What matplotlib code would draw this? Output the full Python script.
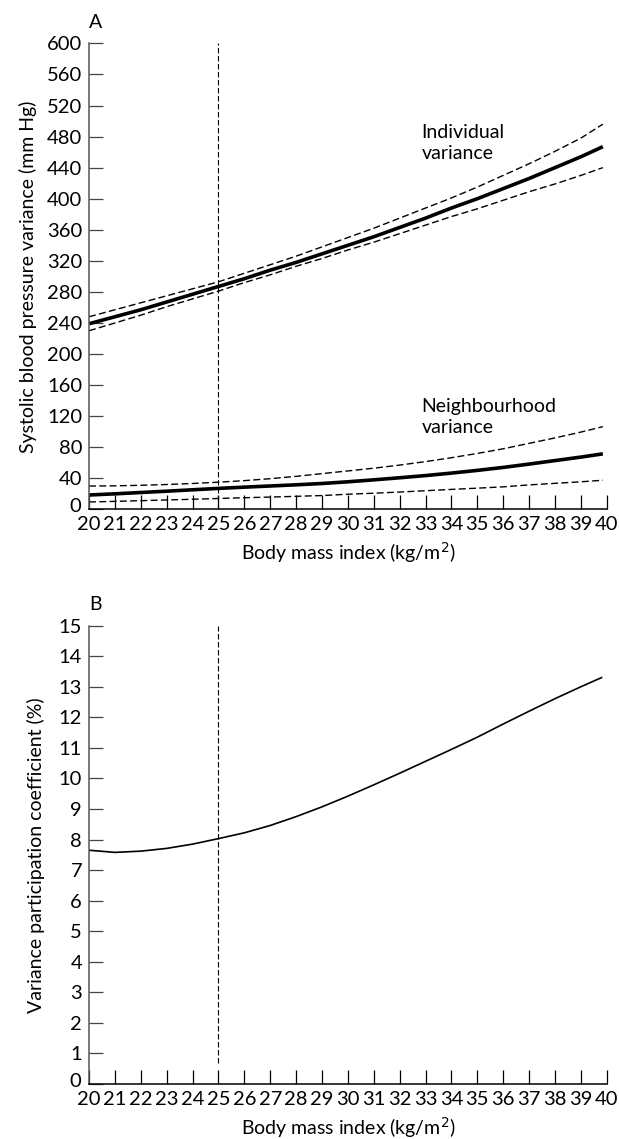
import matplotlib
matplotlib.use("Agg")
import matplotlib.pyplot as plt
from matplotlib.transforms import ScaledTranslation

plt.rcParams['font.family'] = ['Lato', 'DejaVu Sans']

# ---- Data ----
bmi = [20, 21, 22, 23, 24, 25, 26, 27, 28, 29, 30, 31, 32, 33, 34, 35, 36, 37, 38, 39, 39.85]

indiv_mean = [239, 248, 257, 267, 277, 287, 297, 308, 318, 329, 340, 351, 363, 375, 388, 400, 413, 426, 440, 454, 467]
indiv_upper = [248, 257, 266, 275, 284, 293, 304, 315, 326, 338, 350, 362, 375, 388, 401, 415, 430, 445, 461, 478, 496]
indiv_lower = [230, 240, 250, 261, 271, 281, 292, 302, 313, 323, 334, 344, 355, 366, 377, 387, 398, 409, 419, 430, 440]

neigh_mean = [18.5, 20, 21.7, 23.4, 25.2, 27, 28.6, 30.1, 31.6, 33.3, 35.5, 38, 40.7, 43.5, 46.7, 50.2, 54, 58.3, 62.8, 67.3, 71.5]
neigh_upper = [30, 30.3, 31, 32, 33.3, 35, 37, 39.5, 42.5, 46, 49.5, 53, 57, 61.5, 66.5, 72, 78, 85, 92, 99.5, 106.5]
neigh_lower = [9.5, 10.3, 11.2, 12.1, 13, 14, 15, 15.8, 16.8, 17.8, 19.5, 20.8, 22.3, 24, 25.7, 27.3, 29, 31.5, 33.5, 35.5, 37.5]

vpc_bmi = [20, 21, 22, 23, 24, 25, 26, 27, 28, 29, 30, 31, 32, 33, 34, 35, 36, 37, 38, 39, 39.8]
vpc = [7.65, 7.58, 7.62, 7.71, 7.85, 8.03, 8.22, 8.46, 8.75, 9.07, 9.42, 9.79, 10.17, 10.56, 10.95, 11.35, 11.78, 12.20, 12.61, 13.00, 13.3]

xticks = list(range(20, 41))
yticks_a = list(range(0, 601, 40))
yticks_b = list(range(0, 16))
cutoff = 25

fig = plt.figure(figsize=(6.19, 11.39), dpi=100)
axA = fig.add_axes([0.1438, 0.5528, 0.8364, 0.4091])
axB = fig.add_axes([0.1438, 0.0483, 0.8364, 0.4024])

dash = (0, (5, 2.4))
vdash = (0, (5, 2.2))
FS = 14
TFS = 14.5

def style(ax):
    for s in ['top', 'right']:
        ax.spines[s].set_visible(False)
    ax.spines['left'].set_color('#555555')
    ax.spines['left'].set_linewidth(1.1)
    ax.spines['bottom'].set_color('black')
    ax.spines['bottom'].set_linewidth(1.1)
    ax.set_xlim(20, 40)
    ax.set_xticks(xticks)
    ax.tick_params(axis='x', direction='in', length=10, width=0.9, pad=5,
                   labelsize=TFS, color='black')
    ax.tick_params(axis='y', direction='in', length=10, width=0.9, pad=5,
                   labelsize=TFS, color='#444444')
    ax.set_xlabel('Body mass index (kg/m$^2$)', fontsize=FS, labelpad=5)

# Panel A
axA.plot(bmi, indiv_mean, color='black', lw=2.6, solid_capstyle='butt')
axA.plot(bmi, indiv_upper, color='black', lw=1.0, linestyle=dash)
axA.plot(bmi, indiv_lower, color='black', lw=1.0, linestyle=dash)
axA.plot(bmi, neigh_mean, color='black', lw=2.6, solid_capstyle='butt')
axA.plot(bmi, neigh_upper, color='black', lw=1.0, linestyle=dash)
axA.plot(bmi, neigh_lower, color='black', lw=1.0, linestyle=dash)
axA.vlines(cutoff, 0, 600, colors='black', lw=0.8, linestyles=[vdash])
axA.set_ylim(0, 600)
axA.set_yticks(yticks_a)
style(axA)
axA.set_ylabel('Systolic blood pressure variance (mm Hg)', fontsize=FS, labelpad=7)
axA.text(32.85, 472, 'Individual\nvariance', fontsize=FS, ha='left', va='center',
         linespacing=1.3)
axA.text(32.85, 119, 'Neighbourhood\nvariance', fontsize=FS, ha='left', va='center',
         linespacing=1.3)

# Panel B
axB.plot(vpc_bmi, vpc, color='black', lw=1.2)
axB.vlines(cutoff, 0.7, 15, colors='black', lw=0.8, linestyles=[vdash])
axB.set_ylim(0, 15)
axB.set_yticks(yticks_b)
style(axB)
axB.set_ylabel('Variance participation coefficient (%)', fontsize=FS, labelpad=10)

# nudge the "0" y tick label up slightly so it clears the "20" x label
for ax in (axA, axB):
    lab = ax.get_yticklabels()[0]
    lab.set_transform(lab.get_transform() + ScaledTranslation(-1 / 72, 3 / 72, fig.dpi_scale_trans))

fig.text(0.144, 1 - 22 / 1139, 'A', fontsize=FS, ha='left', va='center')
fig.text(0.144, 1 - 605 / 1139, 'B', fontsize=FS, ha='left', va='center')

fig.savefig('out.png', dpi=100)
